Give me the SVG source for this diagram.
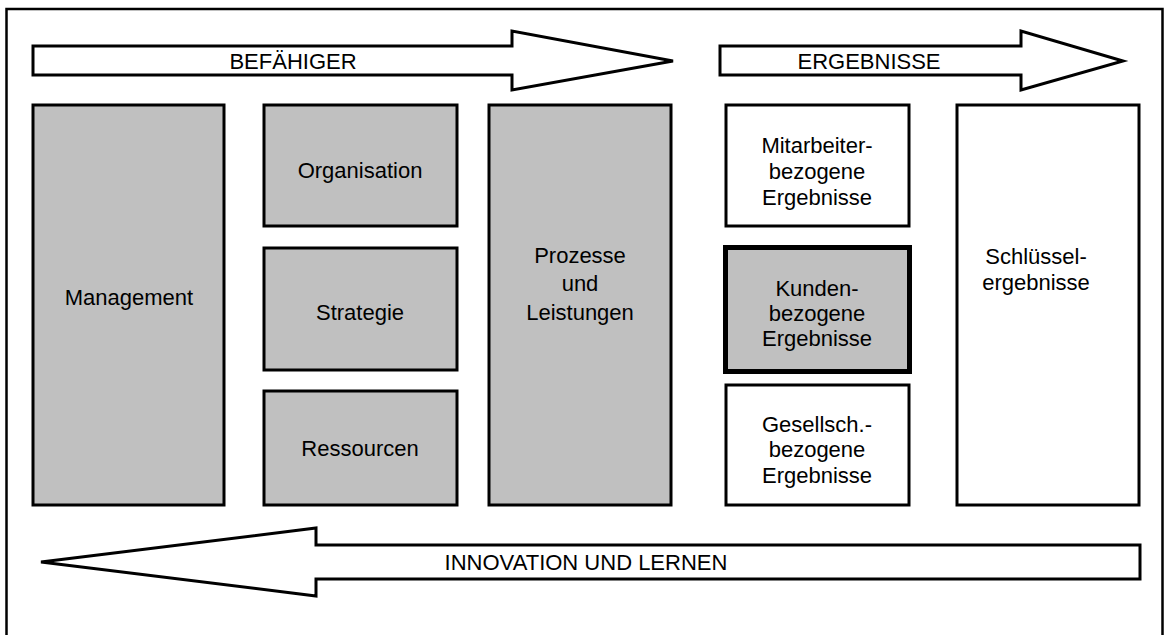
<svg xmlns="http://www.w3.org/2000/svg" width="1166" height="635" viewBox="0 0 1166 635">
<style>
.frame{fill:none;stroke:#000;stroke-width:2.5}
.g{fill:#c0c0c0;stroke:#000;stroke-width:3}
.w{fill:#fff;stroke:#000;stroke-width:3}
.k{fill:#c0c0c0;stroke:#000;stroke-width:5}
.arr{fill:#fff;stroke:#000;stroke-width:3;stroke-linejoin:miter}
text{font-family:"Liberation Sans",Arial,sans-serif;font-size:22px;fill:#000;text-anchor:middle}
</style>
<rect width="1166" height="635" fill="#fff"/>
<rect class="frame" x="6.5" y="9" width="1156" height="640"/>
<g id="connectors">
<g id="arrow-befaehiger">
<polygon class="arr" points="33,46 512,46 512,31 673,61 512,90 512,75 33,75"/>
<text x="293" y="69">BEFÄHIGER</text>
</g>
<g id="arrow-ergebnisse">
<polygon class="arr" points="720,46 1021,46 1021,31 1123,61 1021,90 1021,75 720,75"/>
<text x="869" y="69">ERGEBNISSE</text>
</g>
<g id="arrow-innovation">
<polygon class="arr" points="1140,545 316,545 316,528 41,562 316,596 316,579 1140,579"/>
<text x="586" y="570">INNOVATION UND LERNEN</text>
</g>
</g>
<g id="management">
<rect class="g" x="33" y="105" width="191" height="400"/>
<text x="129" y="305">Management</text>
</g>
<g id="organisation">
<rect class="g" x="264" y="105" width="193" height="121"/>
<text x="360" y="178">Organisation</text>
</g>
<g id="strategie">
<rect class="g" x="264" y="248" width="193" height="122"/>
<text x="360" y="320">Strategie</text>
</g>
<g id="ressourcen">
<rect class="g" x="264" y="391" width="193" height="114"/>
<text x="360" y="456">Ressourcen</text>
</g>
<g id="prozesse">
<rect class="g" x="489" y="105" width="182" height="400"/>
<text x="580" y="263">Prozesse</text>
<text x="580" y="291">und</text>
<text x="580" y="320">Leistungen</text>
</g>
<g id="mitarbeiter">
<rect class="w" x="726" y="105" width="183" height="121"/>
<text x="817" y="153">Mitarbeiter-</text>
<text x="817" y="179">bezogene</text>
<text x="817" y="205">Ergebnisse</text>
</g>
<g id="kunden">
<rect class="k" x="725.5" y="247.5" width="184" height="124"/>
<text x="817" y="296">Kunden-</text>
<text x="817" y="321">bezogene</text>
<text x="817" y="346">Ergebnisse</text>
</g>
<g id="gesellschaft">
<rect class="w" x="726" y="385" width="183" height="120"/>
<text x="817" y="432">Gesellsch.-</text>
<text x="817" y="457">bezogene</text>
<text x="817" y="483">Ergebnisse</text>
</g>
<g id="schluessel">
<rect class="w" x="957" y="105" width="182" height="400"/>
<text x="1036" y="264">Schlüssel-</text>
<text x="1036" y="290">ergebnisse</text>
</g>
</svg>
